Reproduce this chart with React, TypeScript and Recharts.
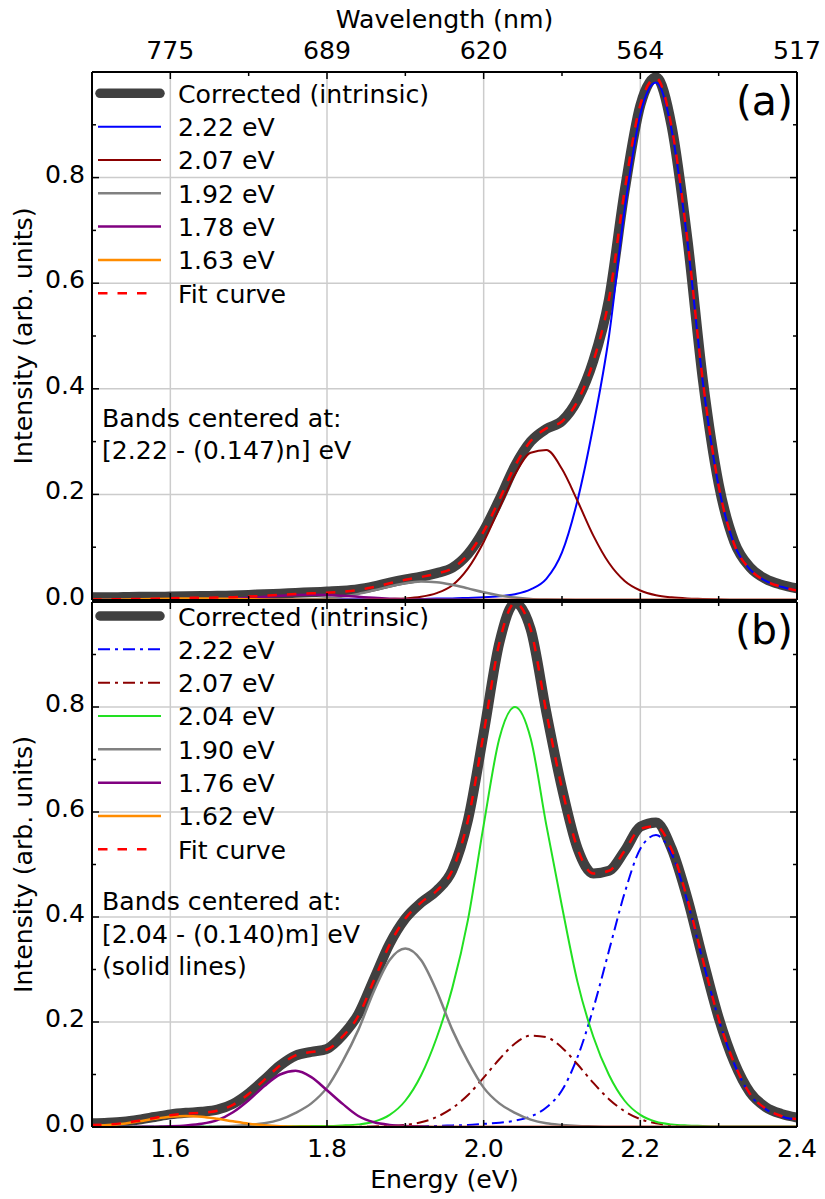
import React from 'react';
import { LineChart, Line, XAxis, YAxis, CartesianGrid, Legend } from 'recharts';

const FONT = "'DejaVu Sans', sans-serif";

// Energy grid (eV)
const energy = [1.5, 1.52, 1.54, 1.56, 1.58, 1.6, 1.62, 1.64, 1.66, 1.68, 1.7, 1.72, 1.74, 1.76, 1.78, 1.8, 1.82, 1.84, 1.86, 1.88, 1.9, 1.92, 1.94, 1.96, 1.98, 2.0, 2.02, 2.04, 2.06, 2.08, 2.1, 2.12, 2.14, 2.16, 2.18, 2.2, 2.22, 2.24, 2.26, 2.28, 2.3, 2.32, 2.34, 2.36, 2.38, 2.4];

// Panel (a)
const correctedA = [0.005, 0.005, 0.0055, 0.006, 0.006, 0.0065, 0.007, 0.0075, 0.008, 0.0085, 0.0095, 0.011, 0.012, 0.0135, 0.0145, 0.016, 0.0175, 0.0205, 0.026, 0.033, 0.039, 0.044, 0.051, 0.061, 0.087, 0.131, 0.19, 0.254, 0.3, 0.324, 0.339, 0.38, 0.453, 0.57, 0.775, 0.937, 0.99, 0.897, 0.685, 0.415, 0.22, 0.11, 0.062, 0.04, 0.029, 0.022];
const bandA222 = [0.0005, 0.0005, 0.0005, 0.0005, 0.0005, 0.0006, 0.0006, 0.0006, 0.0007, 0.0007, 0.0008, 0.0008, 0.0009, 0.001, 0.001, 0.0011, 0.0012, 0.0013, 0.0014, 0.0015, 0.002, 0.002, 0.003, 0.003, 0.004, 0.005, 0.007, 0.011, 0.02, 0.04, 0.09, 0.19, 0.33, 0.5, 0.74, 0.92, 0.98, 0.89, 0.68, 0.41, 0.215, 0.105, 0.058, 0.036, 0.025, 0.018];
const bandA207 = [0, 0, 0, 0, 0, 0, 0, 0, 0, 0, 0, 0, 0, 0, 0, 0, 0, 0, 0.001, 0.002, 0.003, 0.006, 0.013, 0.028, 0.06, 0.11, 0.174, 0.238, 0.279, 0.284, 0.248, 0.187, 0.122, 0.07, 0.036, 0.018, 0.009, 0.005, 0.003, 0.002, 0.001, 0, 0, 0, 0, 0];
const bandA192 = [0, 0, 0, 0, 0, 0, 0, 0, 0, 0, 0, 0.0001, 0.0002, 0.0005, 0.0014, 0.0032, 0.0064, 0.0115, 0.0183, 0.0256, 0.0318, 0.0349, 0.0338, 0.029, 0.022, 0.0147, 0.0087, 0.0046, 0.0021, 0.001, 0.0004, 0, 0, 0, 0, 0, 0, 0, 0, 0, 0, 0, 0, 0, 0, 0];
const bandA178 = [0, 0, 0, 0, 0, 0.0001, 0.0003, 0.0007, 0.0014, 0.0025, 0.0041, 0.0061, 0.008, 0.0095, 0.01, 0.0095, 0.008, 0.0061, 0.0041, 0.0025, 0.0014, 0.0007, 0.0003, 0.0001, 0, 0, 0, 0, 0, 0, 0, 0, 0, 0, 0, 0, 0, 0, 0, 0, 0, 0, 0, 0, 0, 0];
const bandA163 = [0.0003, 0.0006, 0.001, 0.0015, 0.0021, 0.0026, 0.003, 0.003, 0.0026, 0.0021, 0.0015, 0.001, 0.0006, 0.0003, 0.0002, 0.0001, 0, 0, 0, 0, 0, 0, 0, 0, 0, 0, 0, 0, 0, 0, 0, 0, 0, 0, 0, 0, 0, 0, 0, 0, 0, 0, 0, 0, 0, 0];
const fitA = [0.0008, 0.0011, 0.0015, 0.002, 0.0026, 0.0033, 0.0039, 0.0043, 0.0047, 0.0053, 0.0064, 0.008, 0.0097, 0.0113, 0.0126, 0.0139, 0.0156, 0.0189, 0.0248, 0.0316, 0.0382, 0.0436, 0.05, 0.06, 0.086, 0.13, 0.19, 0.254, 0.301, 0.325, 0.338, 0.377, 0.452, 0.57, 0.776, 0.938, 0.989, 0.895, 0.683, 0.412, 0.216, 0.105, 0.058, 0.036, 0.025, 0.018];

// Panel (b)
const correctedB = [0.007, 0.008, 0.01, 0.014, 0.019, 0.024, 0.027, 0.029, 0.033, 0.044, 0.064, 0.09, 0.117, 0.136, 0.143, 0.149, 0.175, 0.215, 0.282, 0.349, 0.397, 0.427, 0.45, 0.489, 0.585, 0.75, 0.922, 0.998, 0.948, 0.79, 0.645, 0.53, 0.483, 0.488, 0.526, 0.572, 0.58, 0.53, 0.436, 0.319, 0.208, 0.123, 0.066, 0.038, 0.025, 0.018];
const bandB222 = [0.0005, 0.0005, 0.0005, 0.0005, 0.0005, 0.0005, 0.0005, 0.0005, 0.0005, 0.0005, 0.0005, 0.0005, 0.0005, 0.0005, 0.0005, 0.0005, 0.0005, 0.0005, 0.0005, 0.0005, 0.001, 0.0015, 0.002, 0.003, 0.004, 0.006, 0.008, 0.012, 0.02, 0.037, 0.07, 0.134, 0.226, 0.336, 0.446, 0.53, 0.556, 0.52, 0.43, 0.315, 0.205, 0.12, 0.062, 0.034, 0.02, 0.014];
const bandB207 = [0, 0, 0, 0, 0, 0, 0, 0, 0, 0, 0, 0, 0, 0, 0, 0, 0, 0, 0.001, 0.002, 0.004, 0.009, 0.019, 0.036, 0.061, 0.094, 0.129, 0.159, 0.174, 0.171, 0.151, 0.119, 0.084, 0.053, 0.03, 0.015, 0.007, 0.003, 0.001, 0, 0, 0, 0, 0, 0, 0];
const bandB204 = [0.0005, 0.0005, 0.0005, 0.0005, 0.0005, 0.001, 0.001, 0.001, 0.001, 0.001, 0.001, 0.001, 0.001, 0.0015, 0.002, 0.002, 0.003, 0.005, 0.01, 0.023, 0.05, 0.098, 0.17, 0.265, 0.395, 0.575, 0.74, 0.8, 0.74, 0.575, 0.42, 0.275, 0.172, 0.099, 0.05, 0.023, 0.01, 0.005, 0.003, 0.002, 0.001, 0.001, 0.001, 0.001, 0.001, 0.001];
const bandB190 = [0, 0, 0, 0, 0, 0, 0, 0, 0.001, 0.002, 0.004, 0.007, 0.014, 0.027, 0.045, 0.075, 0.125, 0.185, 0.259, 0.318, 0.34, 0.318, 0.259, 0.185, 0.125, 0.075, 0.045, 0.027, 0.014, 0.007, 0.004, 0.002, 0.001, 0, 0, 0, 0, 0, 0, 0, 0, 0, 0, 0, 0, 0];
const bandB176 = [0, 0, 0, 0.0003, 0.0007, 0.0015, 0.003, 0.006, 0.013, 0.028, 0.051, 0.078, 0.1, 0.107, 0.095, 0.07, 0.044, 0.021, 0.009, 0.004, 0.002, 0.001, 0, 0, 0, 0, 0, 0, 0, 0, 0, 0, 0, 0, 0, 0, 0, 0, 0, 0, 0, 0, 0, 0, 0, 0];
const bandB162 = [0.003, 0.004, 0.0064, 0.0108, 0.0156, 0.0195, 0.021, 0.0195, 0.0156, 0.0108, 0.0064, 0.0033, 0.0015, 0.0006, 0.0002, 0, 0, 0, 0, 0, 0, 0, 0, 0, 0, 0, 0, 0, 0, 0, 0, 0, 0, 0, 0, 0, 0, 0, 0, 0, 0, 0, 0, 0, 0, 0];
const fitB = [0.004, 0.005, 0.0074, 0.0121, 0.0173, 0.0225, 0.0255, 0.027, 0.0311, 0.0423, 0.0629, 0.0898, 0.117, 0.1366, 0.1427, 0.1475, 0.1725, 0.2115, 0.2795, 0.3475, 0.397, 0.4275, 0.45, 0.489, 0.585, 0.75, 0.922, 0.998, 0.948, 0.79, 0.645, 0.53, 0.483, 0.488, 0.526, 0.568, 0.573, 0.528, 0.434, 0.317, 0.206, 0.121, 0.063, 0.035, 0.021, 0.015];

// Tick values / labels
const xTickValues = [1.6, 1.7, 1.8, 1.9, 2.0, 2.1, 2.2, 2.3, 2.4];
const xMajorValues = [1.6, 1.8, 2.0, 2.2, 2.4];
const xMajorLabels = ['1.6', '1.8', '2.0', '2.2', '2.4'];
const wavelengthLabels = ['775', '689', '620', '564', '517'];
const yTickValues = [0, 0.1, 0.2, 0.3, 0.4, 0.5, 0.6, 0.7, 0.8, 0.9];
const yMajorValues = [0, 0.2, 0.4, 0.6, 0.8];
const yMajorLabels = ['0.0', '0.2', '0.4', '0.6', '0.8'];
const gridX = [1.6, 1.8, 2.0, 2.2];
const gridY = [0.2, 0.4, 0.6, 0.8];

type Series = { key: string; name: string; values: number[]; color: string; width: number; dash?: string; thick?: boolean };

const DASHED = '9.5 10';
const DASHDOT = '12 5 3 5';

const seriesA: Series[] = [
  { key: 'corr', name: 'Corrected (intrinsic)', values: correctedA, color: '#404040', width: 10, thick: true },
  { key: 'b222', name: '2.22 eV', values: bandA222, color: '#0000ff', width: 2 },
  { key: 'b207', name: '2.07 eV', values: bandA207, color: '#8b0000', width: 2 },
  { key: 'b192', name: '1.92 eV', values: bandA192, color: '#808080', width: 2.5 },
  { key: 'b178', name: '1.78 eV', values: bandA178, color: '#800080', width: 2.5 },
  { key: 'b163', name: '1.63 eV', values: bandA163, color: '#ff8c00', width: 2.5 },
  { key: 'fit', name: 'Fit curve', values: fitA, color: '#ff0000', width: 2.5, dash: DASHED },
];

const seriesB: Series[] = [
  { key: 'corr', name: 'Corrected (intrinsic)', values: correctedB, color: '#404040', width: 10, thick: true },
  { key: 'b222', name: '2.22 eV', values: bandB222, color: '#0000ff', width: 2, dash: DASHDOT },
  { key: 'b207', name: '2.07 eV', values: bandB207, color: '#8b0000', width: 2, dash: DASHDOT },
  { key: 'b204', name: '2.04 eV', values: bandB204, color: '#22e022', width: 2 },
  { key: 'b190', name: '1.90 eV', values: bandB190, color: '#808080', width: 2.5 },
  { key: 'b176', name: '1.76 eV', values: bandB176, color: '#800080', width: 2.5 },
  { key: 'b162', name: '1.62 eV', values: bandB162, color: '#ff8c00', width: 2.5 },
  { key: 'fit', name: 'Fit curve', values: fitB, color: '#ff0000', width: 2.5, dash: DASHED },
];

const buildRows = (series: Series[]) =>
  energy.map((e, i) => {
    const row: Record<string, number> = { e };
    series.forEach((s) => {
      row[s.key] = s.values[i];
    });
    return row;
  });

const dataA = buildRows(seriesA);
const dataB = buildRows(seriesB);

const labelFor = (v: number, values: number[], labels: string[]) => {
  const i = values.findIndex((m) => Math.abs(m - v) < 1e-6);
  return i >= 0 ? labels[i] : null;
};
const isMajor = (v: number) => Math.round(v * 10) % 2 === 0;

const FS = 25.2;

const leftTick = (show: boolean) => (p: any) => {
  const { x, y, payload } = p;
  const v = payload.value;
  const major = isMajor(v);
  const lab = show ? labelFor(v, yMajorValues, yMajorLabels) : null;
  return (
    <g>
      <line x1={x} x2={x + (major ? 7 : 4)} y1={y} y2={y} stroke="#000" strokeWidth={1.5} />
      {lab ? (
        <text x={x - 7} y={y + 5} textAnchor="end" fontSize={FS} fontFamily={FONT} fill="#000">
          {lab}
        </text>
      ) : null}
    </g>
  );
};

const rightTick = (p: any) => {
  const { x, y, payload } = p;
  const major = isMajor(payload.value);
  return <line x1={x} x2={x - (major ? 7 : 4)} y1={y} y2={y} stroke="#000" strokeWidth={1.5} />;
};

const bottomTick = (show: boolean) => (p: any) => {
  const { x, y, payload } = p;
  const v = payload.value;
  const major = isMajor(v);
  const lab = show ? labelFor(v, xMajorValues, xMajorLabels) : null;
  return (
    <g>
      <line x1={x} x2={x} y1={y} y2={y - (major ? 7 : 4)} stroke="#000" strokeWidth={1.5} />
      {lab ? (
        <text x={x} y={y + 29.5} textAnchor="middle" fontSize={FS} fontFamily={FONT} fill="#000">
          {lab}
        </text>
      ) : null}
    </g>
  );
};

const topTick = (show: boolean) => (p: any) => {
  const { x, y, payload } = p;
  const v = payload.value;
  const major = isMajor(v);
  const lab = show ? labelFor(v, xMajorValues, wavelengthLabels) : null;
  return (
    <g>
      <line x1={x} x2={x} y1={y} y2={y + (major ? 7 : 4)} stroke="#000" strokeWidth={1.5} />
      {lab ? (
        <text x={x} y={y - 13.5} textAnchor="middle" fontSize={FS} fontFamily={FONT} fill="#000">
          {lab}
        </text>
      ) : null}
    </g>
  );
};

const makeLegend = (series: Series[], rowStart: number) => () => (
  <svg width={380} height={290} style={{ display: 'block', overflow: 'visible' }}>
    {series.map((s, k) => {
      const y = rowStart + 33.33 * k;
      const x1 = s.thick ? 10 : 8;
      const x2 = s.thick ? 70 : s.dash === DASHED ? 59 : 71;
      return (
        <g key={s.key}>
          <line
            x1={x1}
            x2={x2}
            y1={y}
            y2={y}
            stroke={s.color}
            strokeWidth={s.thick ? 9.5 : s.width}
            strokeDasharray={s.dash}
            strokeLinecap={s.thick ? 'round' : 'butt'}
          />
          <text x={88} y={y + 9.5} fontSize={FS} fontFamily={FONT} fill="#000">
            {s.name}
          </text>
        </g>
      );
    })}
  </svg>
);

const axisLineStyle = { stroke: '#000', strokeWidth: 2 };

const renderLines = (series: Series[]) =>
  series.map((s) => (
    <Line
      key={s.key}
      type="monotone"
      dataKey={s.key}
      stroke={s.color}
      strokeWidth={s.width}
      strokeDasharray={s.dash}
      strokeLinecap={s.thick ? 'round' : 'butt'}
      strokeLinejoin="round"
      dot={false}
      activeDot={false}
      isAnimationActive={false}
    />
  ));

export default function App() {
  return (
    <div style={{ position: 'absolute', left: 0, top: 0, width: 825, height: 1199, background: '#fff' }}>
      {/* Panel (a) */}
      <div style={{ position: 'absolute', left: 0, top: 0 }}>
        <LineChart width={825} height={610} data={dataA} margin={{ top: 32, right: 0, bottom: 0, left: 0 }}>
          <CartesianGrid horizontalValues={gridY} verticalValues={gridX} stroke="#cccccc" strokeWidth={1.5} />
          {renderLines(seriesA)}
          <XAxis dataKey="e" type="number" domain={[1.5, 2.4]} allowDataOverflow ticks={xTickValues} interval={0} height={10} tickSize={0} tickMargin={0} tickLine={false} axisLine={axisLineStyle} tick={bottomTick(false)} />
          <XAxis xAxisId="top" orientation="top" dataKey="e" type="number" domain={[1.5, 2.4]} allowDataOverflow ticks={xTickValues} interval={0} height={40} tickSize={0} tickMargin={0} tickLine={false} axisLine={axisLineStyle} tick={topTick(true)} />
          <YAxis type="number" domain={[0, 1]} allowDataOverflow ticks={yTickValues} interval={0} width={92} tickSize={0} tickMargin={0} tickLine={false} axisLine={axisLineStyle} tick={leftTick(true)} />
          <YAxis yAxisId="right" orientation="right" type="number" domain={[0, 1]} allowDataOverflow ticks={yTickValues} interval={0} width={28} tickSize={0} tickMargin={0} tickLine={false} axisLine={axisLineStyle} tick={rightTick} />
          <Legend layout="vertical" align="center" verticalAlign="middle" content={makeLegend(seriesA, 21.3)} wrapperStyle={{ position: 'absolute', left: 90, top: 72, width: 380, height: 240 }} />
        </LineChart>
      </div>

      {/* Panel (b) */}
      <div style={{ position: 'absolute', left: 0, top: 592 }}>
        <LineChart width={825} height={607} data={dataB} margin={{ top: 0, right: 0, bottom: 0, left: 0 }}>
          <CartesianGrid horizontalValues={gridY} verticalValues={gridX} stroke="#cccccc" strokeWidth={1.5} />
          {renderLines(seriesB)}
          <XAxis dataKey="e" type="number" domain={[1.5, 2.4]} allowDataOverflow ticks={xTickValues} interval={0} height={72} tickSize={0} tickMargin={0} tickLine={false} axisLine={axisLineStyle} tick={bottomTick(true)} />
          <XAxis xAxisId="top" orientation="top" dataKey="e" type="number" domain={[1.5, 2.4]} allowDataOverflow ticks={xTickValues} interval={0} height={10} tickSize={0} tickMargin={0} tickLine={false} axisLine={axisLineStyle} tick={topTick(false)} />
          <YAxis type="number" domain={[0, 1]} allowDataOverflow ticks={yTickValues} interval={0} width={92} tickSize={0} tickMargin={0} tickLine={false} axisLine={axisLineStyle} tick={leftTick(true)} />
          <YAxis yAxisId="right" orientation="right" type="number" domain={[0, 1]} allowDataOverflow ticks={yTickValues} interval={0} width={28} tickSize={0} tickMargin={0} tickLine={false} axisLine={axisLineStyle} tick={rightTick} />
          <Legend layout="vertical" align="center" verticalAlign="middle" content={makeLegend(seriesB, 14)} wrapperStyle={{ position: 'absolute', left: 90, top: 10, width: 380, height: 280 }} />
        </LineChart>
      </div>

      {/* Titles and annotations */}
      <svg width={825} height={1199} style={{ position: 'absolute', left: 0, top: 0, pointerEvents: 'none' }}>
        <g fontFamily={FONT} fill="#000" fontSize={FS}>
          <text x={444.5} y={27.5} textAnchor="middle">Wavelength (nm)</text>
          <text x={444.5} y={1188} textAnchor="middle">Energy (eV)</text>
          <text transform="translate(32,336) rotate(-90)" textAnchor="middle">Intensity (arb. units)</text>
          <text transform="translate(32,864.5) rotate(-90)" textAnchor="middle">Intensity (arb. units)</text>
          <text x={102} y={427}>Bands centered at:</text>
          <text x={102} y={459}>[2.22 - (0.147)n] eV</text>
          <text x={102} y={910}>Bands centered at:</text>
          <text x={102} y={942.5}>[2.04 - (0.140)m] eV</text>
          <text x={102} y={975}>(solid lines)</text>
          <text x={793} y={115} textAnchor="end" fontSize={41}>(a)</text>
          <text x={793} y={644} textAnchor="end" fontSize={41}>(b)</text>
        </g>
      </svg>
    </div>
  );
}
